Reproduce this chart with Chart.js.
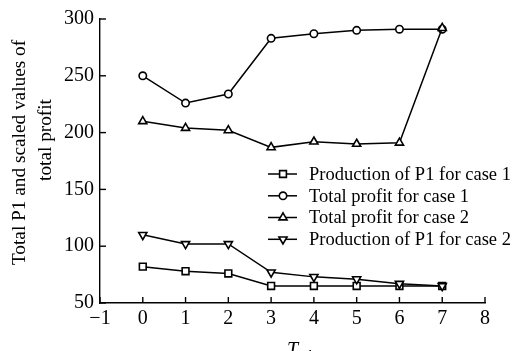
<!DOCTYPE html>
<html>
<head>
<meta charset="utf-8">
<script src="https://cdn.jsdelivr.net/npm/chart.js@4/dist/chart.umd.min.js"></script>
<style>
  html, body { margin: 0; padding: 0; background: #fff; }
  #wrap { width: 513px; height: 351px; position: relative; }
</style>
</head>
<body>
<div id="wrap"><canvas id="chart"></canvas></div>
<script>
// T_ad values on the x axis
const tadValues = [0, 1, 2, 3, 4, 5, 6, 7];

// series
const prodCase1 = [82, 78, 76, 65, 65, 65, 65, 65];
const profitCase1 = [250, 226, 234, 283, 287, 290, 291, 291];
const profitCase2 = [210, 204, 202, 187, 192, 190, 191, 292];
const prodCase2 = [110, 102, 102, 77, 73, 71, 67, 65];

const seriesLabels = [
  'Production of P1 for case 1',
  'Total profit for case 1',
  'Total profit for case 2',
  'Production of P1 for case 2'
];

const yTitle = ['Total P1 and scaled values of', 'total profit'];

const FONT = "'Liberation Serif', 'Times New Roman', serif";
const INK = '#000';

const toPoints = vals => vals.map((v, i) => ({ x: tadValues[i], y: v }));

function makeSet(label, vals, style, rotation, order) {
  return {
    label,
    data: toPoints(vals),
    borderColor: INK,
    borderWidth: 1.5,
    pointStyle: style,
    pointRotation: rotation,
    pointRadius: style === 'rect' ? 4.8 : (style === 'circle' ? 3.7 : 4.7),
    pointBorderWidth: 1.6,
    pointBackgroundColor: '#fff',
    pointBorderColor: INK,
    order
  };
}

const datasets = [
  makeSet(seriesLabels[0], prodCase1, 'rect', 0, 3),
  makeSet(seriesLabels[1], profitCase1, 'circle', 0, 2),
  makeSet(seriesLabels[2], profitCase2, 'triangle', 0, 0),
  makeSet(seriesLabels[3], prodCase2, 'triangle', 180, 1)
];

// inward ticks, legend and axis titles
const decorations = {
  id: 'decorations',
  afterDraw(chart) {
    const ctx = chart.ctx;
    const xs = chart.scales.x;
    const ys = chart.scales.y;
    const area = chart.chartArea;
    ctx.save();
    ctx.strokeStyle = INK;
    ctx.lineWidth = 1.4;

    xs.ticks.forEach(t => {
      const px = xs.getPixelForValue(t.value);
      ctx.beginPath();
      ctx.moveTo(px, area.bottom);
      ctx.lineTo(px, area.bottom - 6);
      ctx.stroke();
    });
    ys.ticks.forEach(t => {
      const py = ys.getPixelForValue(t.value);
      ctx.beginPath();
      ctx.moveTo(area.left, py);
      ctx.lineTo(area.left + 6, py);
      ctx.stroke();
    });

    // legend
    const rowY = [174, 195.8, 217.5, 239.3];
    chart.data.datasets.forEach((ds, i) => {
      const y = rowY[i];
      ctx.strokeStyle = INK;
      ctx.lineWidth = 1.5;
      ctx.beginPath();
      ctx.moveTo(268, y);
      ctx.lineTo(297, y);
      ctx.stroke();
      ctx.fillStyle = '#fff';
      ctx.lineWidth = ds.pointBorderWidth;
      Chart.helpers.drawPoint(ctx, {
        pointStyle: ds.pointStyle,
        radius: ds.pointRadius,
        rotation: ds.pointRotation,
        borderWidth: ds.pointBorderWidth
      }, 283, y);
      ctx.fillStyle = INK;
      ctx.font = '18.5px ' + FONT;
      ctx.textAlign = 'left';
      ctx.textBaseline = 'middle';
      ctx.fillText(ds.label, 309, y + 1);
    });

    // y title, two rotated lines
    ctx.fillStyle = INK;
    ctx.font = '19.3px ' + FONT;
    ctx.textAlign = 'center';
    ctx.textBaseline = 'alphabetic';
    ctx.save();
    ctx.translate(25, 152.5);
    ctx.rotate(-Math.PI / 2);
    ctx.fillText(yTitle[0], 0, 0);
    ctx.restore();
    ctx.save();
    ctx.translate(51, 140);
    ctx.rotate(-Math.PI / 2);
    ctx.fillText(yTitle[1], 0, 0);
    ctx.restore();

    // x title T_ad
    ctx.textAlign = 'left';
    ctx.font = 'italic 20px ' + FONT;
    ctx.fillText('T', 287, 356);
    const tw = ctx.measureText('T').width;
    ctx.font = 'italic 14px ' + FONT;
    ctx.fillText('ad', 287 + tw - 1, 360);
    ctx.restore();
  }
};

new Chart(document.getElementById('chart'), {
  type: 'line',
  data: { datasets },
  options: {
    responsive: true,
    maintainAspectRatio: false,
    animation: false,
    layout: { padding: { left: 0, top: 19, right: 28, bottom: 0 } },
    plugins: {
      legend: { display: false },
      title: { display: false },
      tooltip: { enabled: false }
    },
    scales: {
      x: {
        type: 'linear',
        min: -1,
        max: 8,
        ticks: {
          stepSize: 1,
          color: INK,
          padding: 4,
          font: { family: FONT, size: 20 },
          callback: v => String(v).replace('-', '\u2212')
        },
        grid: { drawOnChartArea: false, drawTicks: false },
        border: { display: true, color: INK, width: 1.4 },
        afterFit: s => { s.height = 48; }
      },
      y: {
        min: 50,
        max: 300,
        ticks: {
          stepSize: 50,
          color: INK,
          padding: 6,
          font: { family: FONT, size: 20 }
        },
        grid: { drawOnChartArea: false, drawTicks: false },
        border: { display: true, color: INK, width: 1.4 },
        afterFit: s => { s.width = 100; }
      }
    }
  },
  plugins: [decorations]
});
</script>
</body>
</html>
